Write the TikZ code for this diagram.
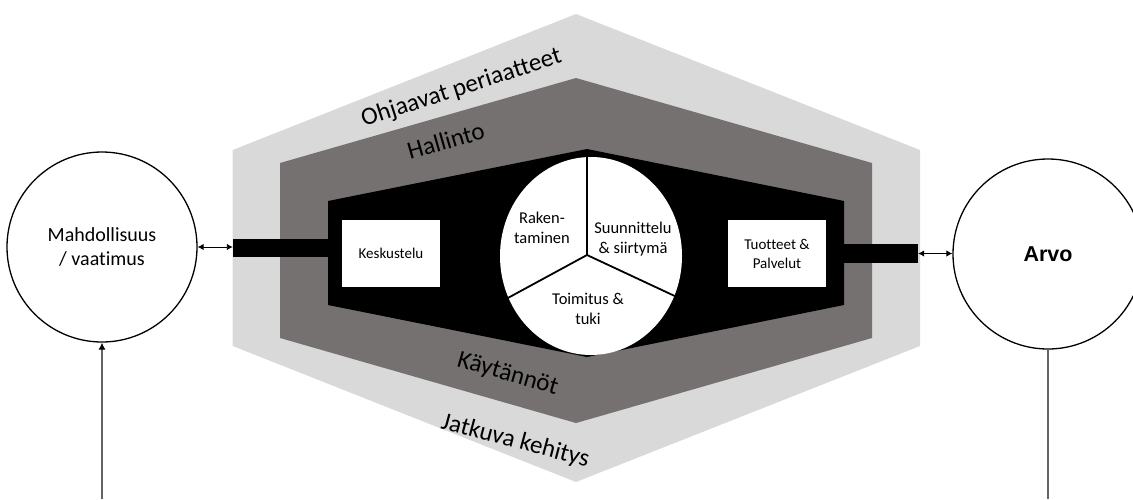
\documentclass[tikz,border=0pt]{standalone}
\usepackage{fontspec}
\setmainfont{Carlito}[Ligatures=NoCommon]
\newfontfamily\headfont{Liberation Sans}
\usetikzlibrary{arrows.meta,shapes.geometric}

\definecolor{outerband}{RGB}{217,217,217}
\definecolor{innerband}{RGB}{118,113,113}
\definecolor{feedgray}{RGB}{100,100,100}

\tikzset{
  band text/.style={font=\fontsize{25}{29}\selectfont, inner sep=0pt, text=black},
  pie text/.style={font=\fontsize{16.5}{20}\selectfont, align=center, inner sep=0pt},
  stage box/.style={fill=white, minimum width=98pt, minimum height=67pt, inner sep=0pt,
    align=center, font=\fontsize{15}{19}\selectfont},
  bar/.style={fill=black, inner sep=0pt},
  end circle/.style={circle, draw=black, line width=1.3pt, fill=white, inner sep=0pt,
    minimum size=190pt, align=center},
  link/.style={line width=0.9pt, {Latex[length=6pt,width=6.5pt]}-{Latex[length=6pt,width=6.5pt]}},
  feed/.style={draw=feedgray, line width=1.1pt},
  divider/.style={line width=1.8pt, draw=black},
}

\begin{document}
\begin{tikzpicture}[x=1pt,y=-1pt]
\useasboundingbox (0,0) rectangle (1133,499);
\clip (0,0) rectangle (1133,499);

% outer and inner hexagonal bands
\fill[outerband] (232.7,150) -- (576,14) -- (920,150) -- (920,346) -- (576,482) -- (232.7,346) -- cycle;
\fill[innerband] (280,163) -- (576,78) -- (872,163) -- (872,338) -- (576,423) -- (280,338) -- cycle;

% core process shape with its two connecting bars
\fill[black] (328,201) -- (587,149) -- (844,201) -- (844,305) -- (587,357) -- (328,305) -- cycle;
\node[bar, minimum width=95pt, minimum height=18pt] (lbar) at (280.5,248) {};
\node[bar, minimum width=74pt, minimum height=19pt] (rbar) at (881,253.5) {};

% stage boxes
\node[stage box] (talk) at (391,253.5) {Keskustelu};
\node[stage box] (out) at (777,253.5) {Tuotteet \&\\Palvelut};

% three-part lifecycle wheel
\node[ellipse, fill=white, minimum width=182pt, minimum height=198pt, inner sep=0pt] (pie) at (591,256) {};
\coordinate (hub) at (587,255);
\coordinate (ptop) at (587,157);
\coordinate (pleft) at (506,299);
\coordinate (pright) at (679,298);
\draw[divider] (ptop) -- (hub) -- (pleft);
\draw[divider] (hub) -- (pright);
\node[pie text] (build) at (542,228) {Raken-\\taminen};
\node[pie text] (plan) at (633,239) {Suunnittelu\\\& siirtymä};
\node[pie text] (run) at (588,309) {Toimitus \&\\tuki};

% band labels
\node[band text, rotate=18, anchor=base west] (guide) at (364,127) {Ohjaavat periaatteet};
\node[band text, rotate=16, anchor=base west] (gov) at (410,160) {Hallinto};
\node[band text, rotate=-16, anchor=base west] (prac) at (456,366) {Käytännöt};
\node[band text, rotate=-15, anchor=base west] (cont) at (440,428) {Jatkuva kehitys};

% end circles
\node[end circle, font=\fontsize{20}{24}\selectfont] (need) at (102,247) {Mahdollisuus\\/ vaatimus};
\node[end circle, font=\headfont\bfseries\fontsize{21.5}{26}\selectfont] (value) at (1048,254) {Arvo};

% connectors
\coordinate (src) at (102,499);
\coordinate (sink) at (1048,499);
\draw[feed, -{Latex[length=7pt,width=7pt,color=black]}] (src) -- (need.south);
\draw[feed] (value.south) -- (sink);
\draw[link] (need.east) -- (need.east -| lbar.west);
\draw[link] (rbar.east) -- (rbar.east -| value.west);
\end{tikzpicture}
\end{document}
